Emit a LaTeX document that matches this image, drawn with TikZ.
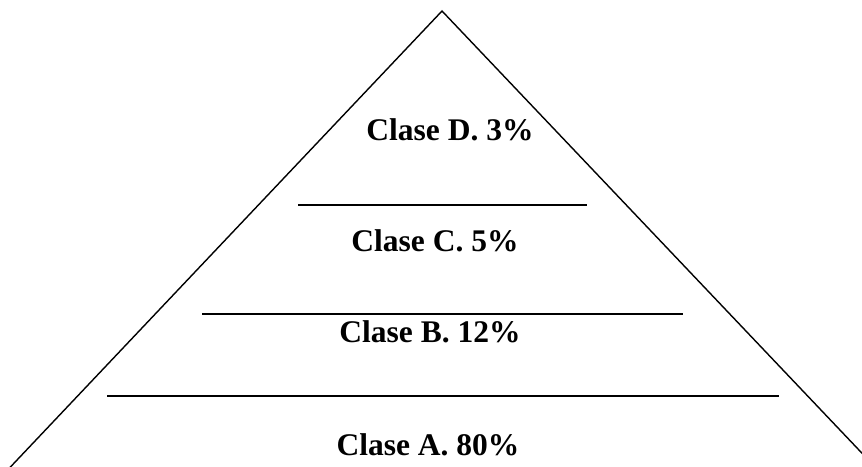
\documentclass[tikz,border=0pt]{standalone}
\usepackage{fontspec}
\setmainfont{Liberation Serif}
\begin{document}
\begin{tikzpicture}[x=1pt,y=-1pt,
  edge/.style={line width=1.4pt, line cap=butt},
  lbl/.style={font=\fontsize{31.5}{36}\selectfont\bfseries, anchor=base, inner sep=0pt}]
\useasboundingbox (0,0) rectangle (862,466);
\clip (0,0) rectangle (862,466);
\coordinate (apex) at (442,11);
\coordinate (bl) at (0,478);
\coordinate (br) at (877,469);
\draw[edge, line join=miter] (bl) -- (apex) -- (br);
\coordinate (d1) at (298,205); \coordinate (d2) at (587,205);
\coordinate (c1) at (202,314); \coordinate (c2) at (683,314);
\coordinate (b1) at (107,396); \coordinate (b2) at (779,396);
\draw[edge] (d1) -- (d2);
\draw[edge] (c1) -- (c2);
\draw[edge] (b1) -- (b2);
\node[lbl] (D) at (450,140) {Clase D. 3\%};
\node[lbl] (C) at (435,251) {Clase C. 5\%};
\node[lbl] (B) at (430,342) {Clase B. 12\%};
\node[lbl] (A) at (428,455) {Clase A. 80\%};
\end{tikzpicture}
\end{document}
